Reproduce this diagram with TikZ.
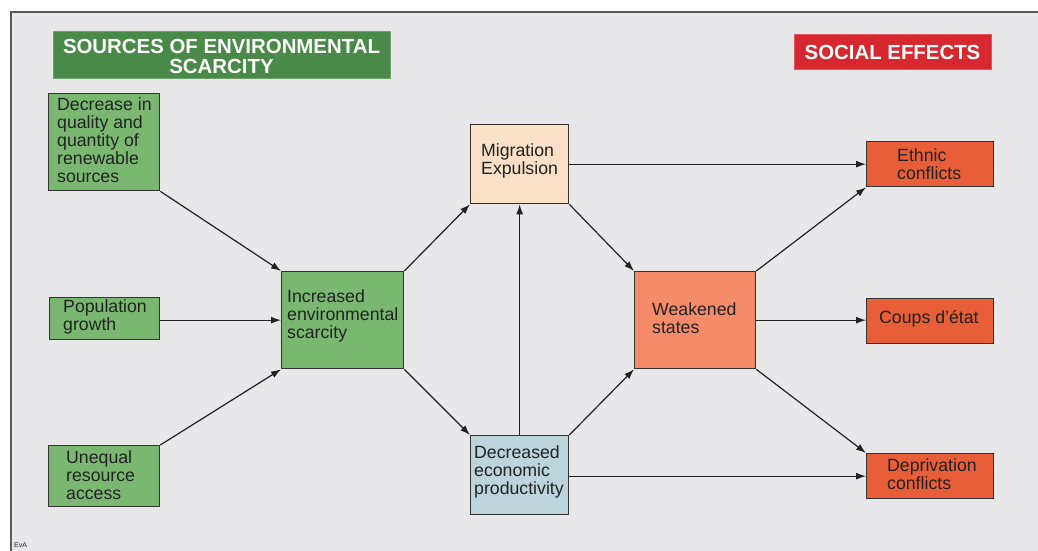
\documentclass[tikz,border=0pt]{standalone}
\usepackage{fontspec}
\setmainfont{Liberation Sans}
\usetikzlibrary{arrows.meta}
\definecolor{bg}{HTML}{E8E8EA}
\definecolor{frame}{HTML}{5A5A5A}
\definecolor{boxline}{HTML}{333333}
\definecolor{txt}{HTML}{222222}
\definecolor{gbox}{HTML}{7AB872}
\definecolor{gtitle}{HTML}{4A8A48}
\definecolor{rtitle}{HTML}{D7282F}
\definecolor{peach}{HTML}{FBE0C8}
\definecolor{bluegrey}{HTML}{BBD5DA}
\definecolor{salmon}{HTML}{F58B68}
\definecolor{effect}{HTML}{E85E38}
\definecolor{arrowc}{HTML}{222222}
\begin{document}
\begin{tikzpicture}[x=1pt,y=-1pt,
  box/.style={draw=boxline, line width=1.3pt, anchor=north west, inner sep=0pt},
  lbl/.style={anchor=west, align=left, inner sep=0pt, text=txt, font=\fontsize{17.7}{18}\selectfont},
  ttl/.style={align=center, inner sep=0pt, text=white, font=\bfseries\fontsize{20.4}{20}\selectfont},
  arr/.style={draw=arrowc, line width=1.2pt, -{Latex[length=10pt,width=7pt]}}]
\useasboundingbox (0,0) rectangle (1038,550);
\clip (0,0) rectangle (1038,550);
% background and frame
\fill[white] (0,0) rectangle (1038,550);
\draw[frame, line width=1.5pt, fill=bg] (11,12) rectangle (1050,570);
% titles
\node[fill=gtitle, draw=gtitle!80!white, line width=0.5pt, anchor=north west, minimum width=337pt, minimum height=47pt, inner sep=0pt] (tg) at (53,31) {};
\node[ttl] (tgt) at (221.5,56) {SOURCES OF ENVIRONMENTAL\\SCARCITY};
\node[fill=rtitle, draw=rtitle!80!white, line width=0.5pt, anchor=north west, minimum width=197pt, minimum height=35pt, inner sep=0pt] (tr) at (794,34) {};
\node[ttl] (trt) at (892.5,52) {SOCIAL EFFECTS};
% boxes
\node[box, fill=gbox, minimum width=111pt, minimum height=97pt] (dec) at (48,93) {};
\node[box, fill=gbox, minimum width=110pt, minimum height=42pt] (pop) at (49,297) {};
\node[box, fill=gbox, minimum width=111pt, minimum height=61pt] (uneq) at (48,445) {};
\node[box, fill=gbox, minimum width=122pt, minimum height=97pt] (inc) at (281,271) {};
\node[box, fill=peach, minimum width=98pt, minimum height=79pt] (mig) at (470,124) {};
\node[box, fill=bluegrey, minimum width=98pt, minimum height=79pt] (eco) at (470,435) {};
\node[box, fill=salmon, minimum width=121pt, minimum height=97pt] (weak) at (634,271) {};
\node[box, fill=effect, minimum width=127pt, minimum height=45pt] (eth) at (866,141) {};
\node[box, fill=effect, minimum width=127pt, minimum height=45pt] (coup) at (866,298) {};
\node[box, fill=effect, minimum width=127pt, minimum height=45pt] (dep) at (866,453) {};
% labels
\node[lbl] (decT) at (57,140.5) {Decrease in\\quality and\\quantity of\\renewable\\sources};
\node[lbl] (popT) at (63,316.5) {Population\\growth};
\node[lbl] (uneqT) at (66,475) {Unequal\\resource\\access};
\node[lbl] (incT) at (287,316) {Increased\\environmental\\scarcity};
\node[lbl] (migT) at (481,161) {Migration\\Expulsion};
\node[lbl] (ecoT) at (474,472) {Decreased\\economic\\productivity};
\node[lbl] (weakT) at (652,318.5) {Weakened\\states};
\node[lbl] (ethT) at (897,164) {Ethnic\\conflicts};
\node[lbl] (coupT) at (879,319) {Coups d’état};
\node[lbl] (depT) at (887,474.5) {Deprivation\\conflicts};
\node[anchor=north west, inner sep=0pt, text=txt, font=\fontsize{7}{7}\selectfont] (eva) at (14,542) {EvA};
% connectors
\draw[arr] (dec.south east) -- (inc.north west);
\draw[arr] (pop.east |- inc.west) -- (inc.west);
\draw[arr] (uneq.north east) -- (inc.south west);
\draw[arr] (inc.north east) -- (mig.south west);
\draw[arr] (inc.south east) -- (eco.north west);
\draw[arr] (eco.north) -- (mig.south);
\draw[arr] (mig.south east) -- (weak.north west);
\draw[arr] (eco.north east) -- (weak.south west);
\draw[arr] (mig.east) -- (mig.east -| eth.west);
\draw[arr] (weak.north east) -- (eth.south west);
\draw[arr] (weak.east) -- (weak.east -| coup.west);
\draw[arr] (weak.south east) -- (dep.north west);
\draw[arr] (eco.east |- dep.west) -- (dep.west);
\end{tikzpicture}
\end{document}
